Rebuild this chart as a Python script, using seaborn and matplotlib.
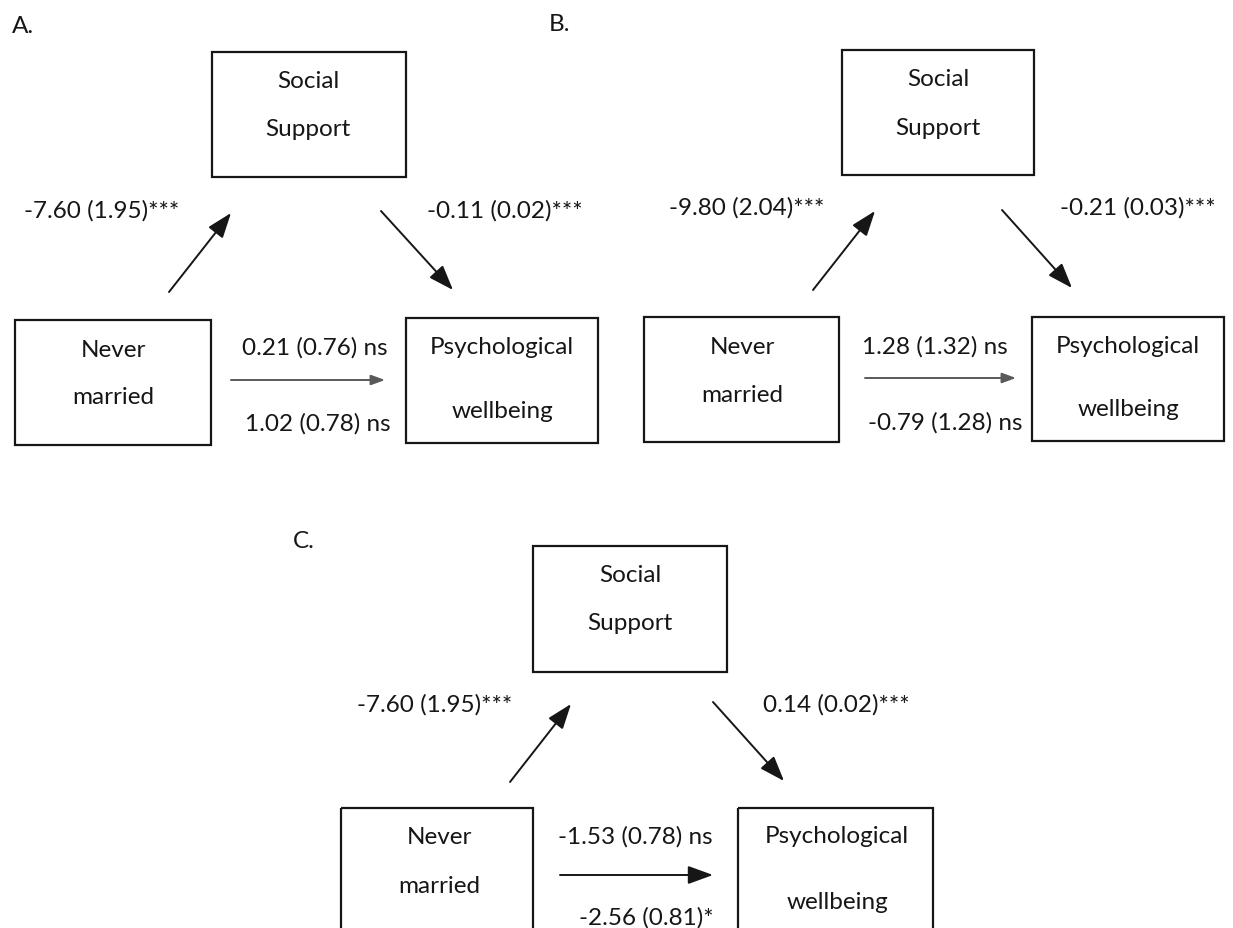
import matplotlib
matplotlib.use("Agg")
import matplotlib.pyplot as plt
from matplotlib.patches import Rectangle
import seaborn as sns

# Mediation models: never married -> social support -> psychological wellbeing
panel_names = ["A.", "B.", "C."]
mediator_label = ["Social", "Support"]
predictor_label = ["Never", "married"]
outcome_label = ["Psychological", "wellbeing"]
path_a = ["-7.60 (1.95)***", "-9.80 (2.04)***", "-7.60 (1.95)***"]
path_b = ["-0.11 (0.02)***", "-0.21 (0.03)***", "0.14 (0.02)***"]
direct_effect = ["0.21 (0.76) ns", "1.28 (1.32) ns", "-1.53 (0.78) ns"]
total_effect = ["1.02 (0.78) ns", "-0.79 (1.28) ns", "-2.56 (0.81)*"]

# Layout of each panel (pixel coordinates, y grows downward)
layout = [
    dict(title=(12, 26),
         med=(212, 53, 406, 178), med_txt=(308, 81, 129),
         pred=(15, 321, 211, 446), pred_txt=(113, 350, 398),
         out=(406, 319, 598, 444), out_txt=(502, 347, 412),
         a_txt=(102, 211), b_txt=(505, 211), c_txt=(315, 348), t_txt=(318, 424),
         a_arr=((169, 293), (231, 214)), b_arr=((381, 212), (453, 291)),
         c_arr=((231, 381), (385, 381)), faint=True),
    dict(title=(549, 24),
         med=(842, 51, 1034, 176), med_txt=(938, 79, 128),
         pred=(644, 318, 839, 443), pred_txt=(742, 347, 395),
         out=(1032, 318, 1224, 442), out_txt=(1128, 346, 410),
         a_txt=(747, 208), b_txt=(1138, 208), c_txt=(935, 347), t_txt=(945, 423),
         a_arr=((813, 291), (875, 212)), b_arr=((1002, 211), (1072, 289)),
         c_arr=((865, 379), (1016, 379)), faint=True),
    dict(title=(293, 542),
         med=(533, 547, 727, 673), med_txt=(630, 575, 624),
         pred=(341, 809, 533, 940), pred_txt=(439, 838, 887),
         out=(738, 809, 933, 940), out_txt=(837, 837, 903),
         a_txt=(435, 705), b_txt=(836, 705), c_txt=(635, 837), t_txt=(646, 918),
         a_arr=((510, 783), (571, 705)), b_arr=((713, 703), (784, 782)),
         c_arr=((560, 876), (713, 876)), faint=False),
]

sns.set_theme(style="white")
plt.rcParams["font.family"] = ["Lato", "DejaVu Sans"]

W, H = 1233, 929
fig = plt.figure(figsize=(W / 100, H / 100), dpi=100)
ax = fig.add_axes([0, 0, 1, 1])
ax.set_xlim(0, W)
ax.set_ylim(H, 0)
ax.axis("off")

INK = "#161616"
FS = 17.5


def box(rect):
    x0, y0, x1, y1 = rect
    ax.add_patch(Rectangle((x0, y0), x1 - x0, y1 - y0, fill=False,
                           edgecolor=INK, linewidth=1.6, zorder=2))


def two_lines(pos, lines):
    cx, y1, y2 = pos
    ax.text(cx, y1, lines[0], ha="center", va="center", fontsize=FS, color=INK)
    ax.text(cx, y2, lines[1], ha="center", va="center", fontsize=FS, color=INK)


def arrow(seg, head_color=INK, small=False):
    (x0, y0), (x1, y1) = seg
    style = "-|>,head_length=0.6,head_width=0.22" if small else "-|>,head_length=1.1,head_width=0.4"
    ax.annotate("", xy=(x1, y1), xytext=(x0, y0),
                arrowprops=dict(arrowstyle=style, color=INK, lw=1.4,
                                fc=head_color, ec=head_color,
                                shrinkA=0, shrinkB=0, mutation_scale=14))


for i, lay in enumerate(layout):
    ax.text(*lay["title"], panel_names[i], ha="left", va="center",
            fontsize=FS, color=INK)
    box(lay["med"])
    box(lay["pred"])
    box(lay["out"])
    two_lines(lay["med_txt"], mediator_label)
    two_lines(lay["pred_txt"], predictor_label)
    two_lines(lay["out_txt"], outcome_label)
    ax.text(*lay["a_txt"], path_a[i], ha="center", va="center", fontsize=FS, color=INK)
    ax.text(*lay["b_txt"], path_b[i], ha="center", va="center", fontsize=FS, color=INK)
    ax.text(*lay["c_txt"], direct_effect[i], ha="center", va="center", fontsize=FS, color=INK)
    ax.text(*lay["t_txt"], total_effect[i], ha="center", va="center", fontsize=FS, color=INK)
    arrow(lay["a_arr"])
    arrow(lay["b_arr"])
    if lay["faint"]:
        arrow(lay["c_arr"], head_color="#5a5a5a", small=True)
    else:
        arrow(lay["c_arr"])

fig.savefig("out.png", dpi=100, facecolor="white")
